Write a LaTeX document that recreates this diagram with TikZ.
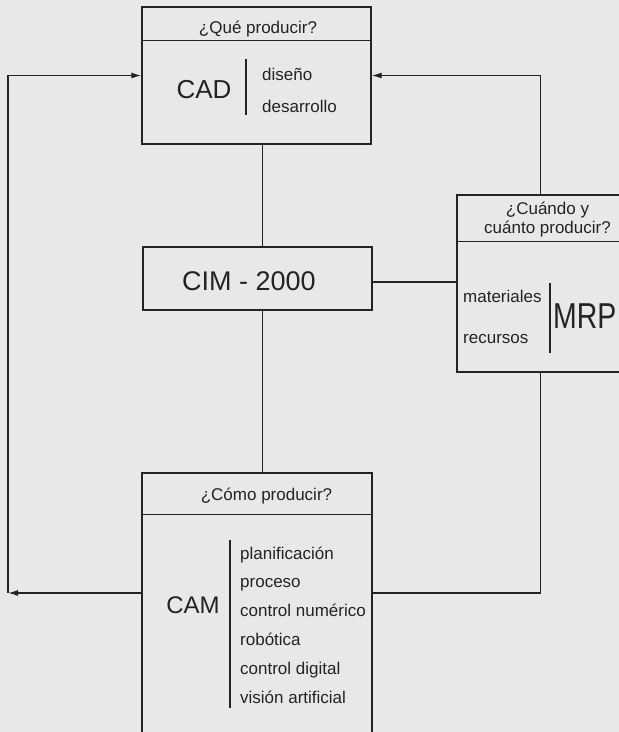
\documentclass[tikz,border=0pt]{standalone}
\usepackage{fontspec}
\usepackage{graphicx}
\setmainfont{Liberation Sans}
\usetikzlibrary{arrows.meta}

\definecolor{paper}{RGB}{232,232,232}
\definecolor{ink}{RGB}{35,35,35}

\tikzset{
  box/.style={draw=ink, line width=1.3pt, inner sep=0pt},
  link/.style={draw=ink, line width=1.3pt},
  arr/.style={draw=ink, line width=1.3pt, -{Latex[length=10pt,width=6pt]}},
  txt/.style={text=ink, inner sep=0pt, anchor=base west, font=\fontsize{17}{19}\selectfont},
  head/.style={text=ink, inner sep=0pt, anchor=base, font=\fontsize{17}{19}\selectfont},
  big/.style={text=ink, inner sep=0pt, anchor=base, font=\fontsize{26}{30}\selectfont},
}

\begin{document}
\begin{tikzpicture}[x=1pt, y=-1pt]
  \useasboundingbox (0,0) rectangle (619,732);
  \clip (0,0) rectangle (619,732);
  \fill[paper] (0,0) rectangle (619,732);

  % boxes
  \node[box, minimum width=229pt, minimum height=137pt] (cad) at (256.5,75.5) {};
  \node[box, minimum width=229pt, minimum height=63pt] (cim) at (257.5,278.5) {};
  \node[box, minimum width=181pt, minimum height=177pt] (mrp) at (547.5,283.5) {};
  \node[box, minimum width=230pt, minimum height=280pt] (cam) at (257,613) {};

  % header lines
  \draw[link] ([yshift=-34pt]cad.north west) -- ([yshift=-34pt]cad.north east);
  \draw[link] ([yshift=-47pt]mrp.north west) -- ([yshift=-47pt]mrp.north east);
  \draw[link] ([yshift=-42pt]cam.north west) -- ([yshift=-42pt]cam.north east);

  % CAD
  \node[head] (cadq) at (258,33) {¿Qué producir?};
  \node[big] (cadt) at (204,98) {CAD};
  \draw[link] (246,59) -- (246,115);
  \node[txt] (dis) at (262,80) {diseño};
  \node[txt] (des) at (262,112) {desarrollo};

  % CIM
  \node[big, font=\fontsize{27}{30}\selectfont] (cimt) at (249,290) {CIM - 2000};

  % MRP
  \node[head, anchor=center, align=center] (mrpq) at (547.5,219) {¿Cuándo y\\cuánto producir?};
  \node[txt] (mat) at (463,302) {materiales};
  \node[txt] (rec) at (463,343) {recursos};
  \draw[link] (550,283) -- (550,353);
  \node[big, anchor=base west, font=\fontsize{36}{40}\selectfont] (mrpt) at (553,328) {\scalebox{0.79}[1]{MRP}};

  % CAM
  \node[head] (camq) at (266.5,500) {¿Cómo producir?};
  \node[big, font=\fontsize{24}{28}\selectfont] (camt) at (193,613) {CAM};
  \draw[link] (230,540) -- (230,708);
  \foreach \t [count=\i from 0] in {planificación, proceso, control numérico,
      robótica, control digital, visión artificial}
    \node[txt] (item\i) at (240,559+28.8*\i) {\t};

  % connectors
  \coordinate (spine) at (262.5,0);
  \coordinate (rx) at (540.5,0);
  \coordinate (lx) at (8,0);
  \coordinate (mid) at (0,282);
  \coordinate (low) at (0,593);

  \draw[link] (cad.south -| spine) -- (cim.north -| spine);
  \draw[link] (cim.south -| spine) -- (cam.north -| spine);
  \draw[link] (cim.east |- mid) -- (mrp.west |- mid);
  \draw[arr] (mrp.north -| rx) |- (cad.east);
  \draw[link] (cam.east |- low) -| (mrp.south -| rx);
  \draw[arr] (cam.west |- low) -- (lx |- low);
  \draw[arr] (lx |- low) |- (cad.west);
\end{tikzpicture}
\end{document}
